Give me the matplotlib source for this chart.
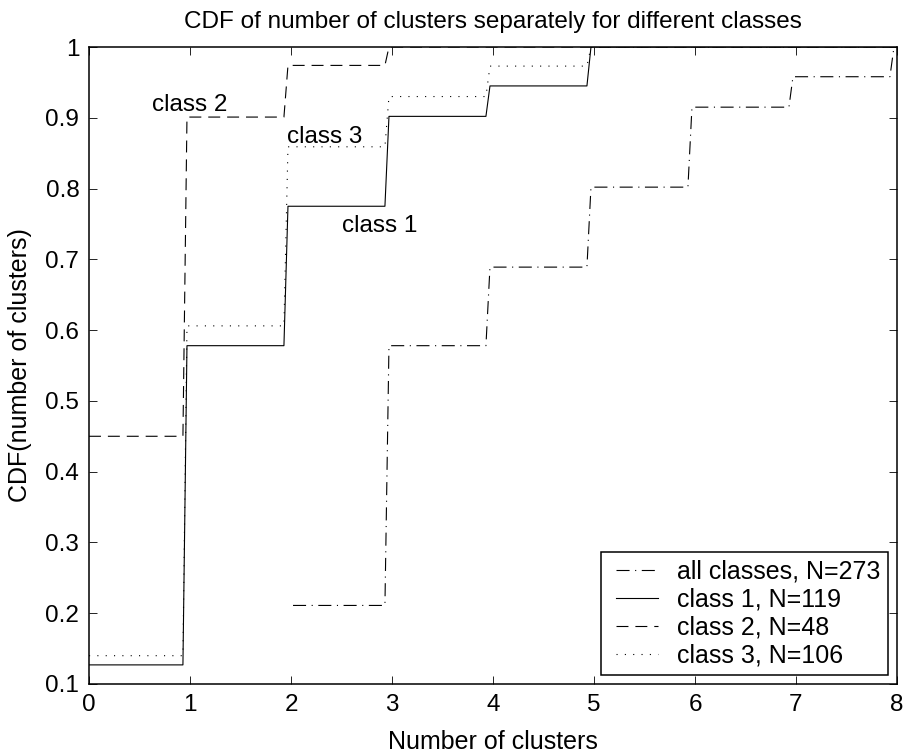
import numpy as np
import matplotlib
matplotlib.use("Agg")
import matplotlib.pyplot as plt
from matplotlib.lines import Line2D
from matplotlib.legend_handler import HandlerLine2D

# ------------- data
start_all = 2
cdf_all = [0.211, 0.578, 0.689, 0.802, 0.915, 0.958, 1.0]
start_cls = 0
cdf_class1 = [0.127, 0.578, 0.775, 0.902, 0.945, 1.0]
cdf_class2 = [0.450, 0.901, 0.974, 1.0]
cdf_class3 = [0.140, 0.606, 0.859, 0.930, 0.973, 1.0]

labels = ["all classes, N=273", "class 1, N=119", "class 2, N=48", "class 3, N=106"]
x_max = 8


#------------ turns a list of cdf levels into the slanted matlab-like staircase
def staircase(start, levels, x_end=x_max, lead=0.03, lag=0.07):
    xs, ys = [start], [levels[0]]
    for i, v in enumerate(levels):
        k = int(round(start)) + i
        if i > 0:
            xs.append(k - lead)
            ys.append(v)
        right = k + 1 - lag if i < len(levels) - 1 else x_end
        xs.append(right)
        ys.append(v)
    return np.array(xs), np.array(ys)


plt.rcParams['font.family'] = ['Liberation Sans', 'DejaVu Sans']
plt.rcParams['font.size'] = 17.5
plt.rcParams['lines.scale_dashes'] = False

fig = plt.figure(figsize=(9.06, 7.56), dpi=100)
ax = fig.add_axes([89 / 906, 72 / 756, 808 / 906, 637 / 756])

lw = 0.8
styles = [
    (0, (9.4, 4.0, 0.8, 4.0)),
    '-',
    (0, (8.6, 5.0)),
    (0, (0.8, 5.2)),
]
series = [(start_all, cdf_all), (start_cls, cdf_class1),
          (start_cls, cdf_class2), (start_cls, cdf_class3)]

for (st, lev), ls, lab in zip(series, styles, labels):
    x, y = staircase(st + (0.02 if st > 0 else 0), lev)
    ax.plot(x, y, color='black', linewidth=lw, linestyle=ls, label=lab)

ax.text(0.62, 0.918, "class 2", ha='left', va='center')
ax.text(1.96, 0.873, "class 3", ha='left', va='center')
ax.text(2.50, 0.747, "class 1", ha='left', va='center')

ax.set_xlim(0, 8)
ax.set_ylim(0.1, 1)
ax.set_xticks(range(0, 9))
ax.set_yticks(np.round(np.arange(0.1, 1.01, 0.1), 1))
ax.set_yticklabels(["0.1", "0.2", "0.3", "0.4", "0.5", "0.6", "0.7", "0.8", "0.9", "1"])

ax.tick_params(direction='in', length=6, width=0.6, top=True, right=True, pad=7)
for sp in ax.spines.values():
    sp.set_linewidth(1.1)

ax.set_title("CDF of number of clusters separately for different classes",
             fontsize=17.5, pad=14)
ax.set_xlabel("Number of clusters", fontsize=18, labelpad=10)
ax.set_ylabel("CDF(number of clusters)", fontsize=18, labelpad=10)

leg = ax.legend(loc='lower right', fancybox=False, framealpha=1, edgecolor='black',
                fontsize=18, borderaxespad=0.37, borderpad=0.3, labelspacing=0.16,
                handlelength=2.0, handletextpad=0.75,
                handler_map={Line2D: HandlerLine2D(xpad=0.33)})
leg.get_frame().set_linewidth(1.1)

fig.savefig("out.png", dpi=100)
